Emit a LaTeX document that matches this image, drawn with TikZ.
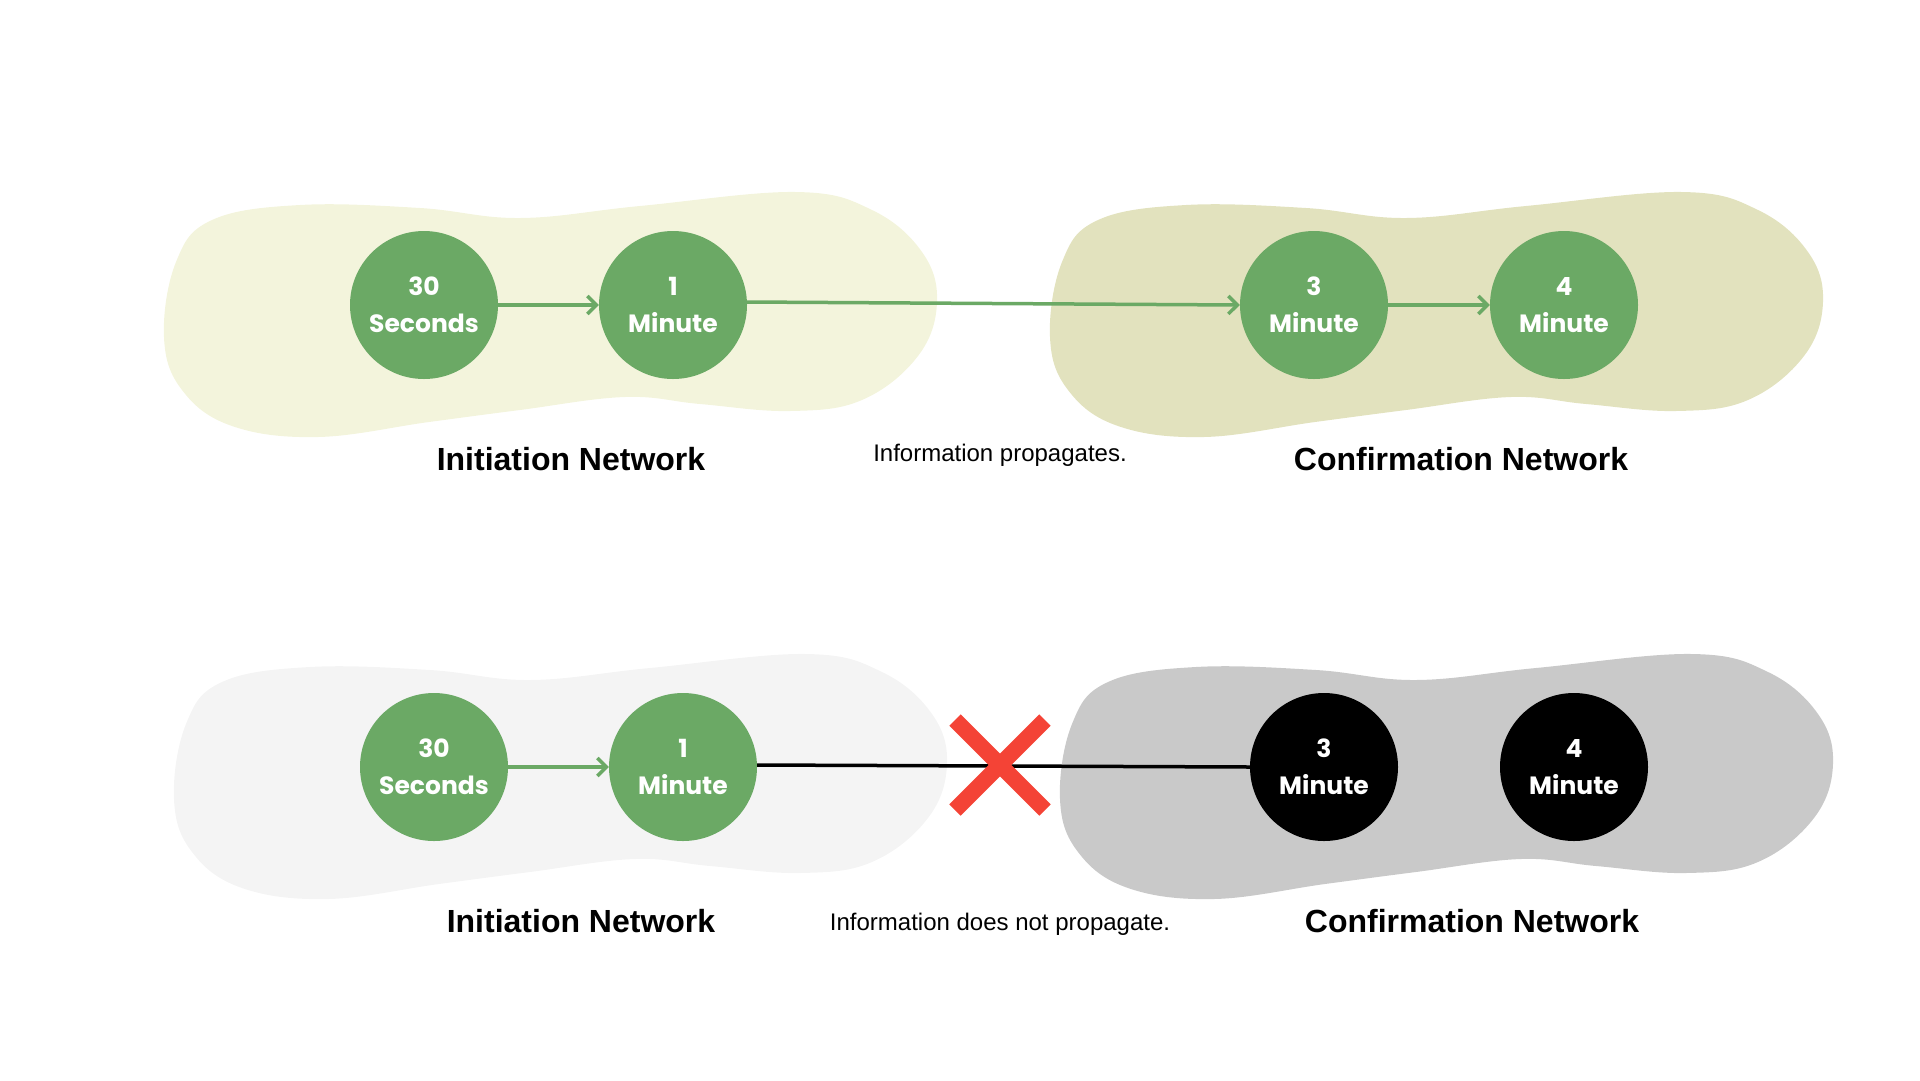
\documentclass[tikz,border=0pt]{standalone}
\usepackage{fontspec}
\setmainfont{Liberation Sans}
\newfontfamily\circfont{Poppins}
\usetikzlibrary{arrows.meta,calc}
\definecolor{blobA}{HTML}{F3F4DC}
\definecolor{blobB}{HTML}{E2E2BE}
\definecolor{blobC}{HTML}{F4F4F4}
\definecolor{blobD}{HTML}{C9C9C9}
\definecolor{nodegreen}{HTML}{6BA965}
\definecolor{xred}{HTML}{F44336}
\tikzset{
  tnode/.style={circle, minimum size=148pt, inner sep=0pt, text=white,
    font=\circfont\bfseries\fontsize{25}{37}\selectfont, align=center},
  gnode/.style={tnode, fill=nodegreen},
  knode/.style={tnode, fill=black},
  netlabel/.style={font=\bfseries\fontsize{32}{38}\selectfont, text=black},
  infolabel/.style={font=\fontsize{24}{28}\selectfont, text=black},
  garrow/.style={draw=nodegreen, line width=3.5pt, -{Straight Barb[length=9pt,width=18pt,line width=3.5pt]}},
  blackline/.style={draw=black, line width=3.5pt},
}
\newcommand\blobpath{plot[smooth cycle, tension=0.65] coordinates {
 (164,337) (176,262) (212,220) (300,205) (420,208) (520,218) (640,206)
 (796,192) (872,210) (922,252) (937,302) (918,356) (862,400) (790,411)
 (700,404) (625,397) (520,410) (429,422) (318,437) (232,426) (182,390)}}
\begin{document}
\begin{tikzpicture}[x=1pt,y=-1pt]
\useasboundingbox (0,0) rectangle (1920,1080);
% blobs
\fill[blobA] \blobpath;
\fill[blobB, shift={(886,0)}] \blobpath;
\fill[blobC, shift={(10,462)}] \blobpath;
\fill[blobD, shift={(896,462)}] \blobpath;
% top row
\node[gnode] (a1) at (424,305) {30\\Seconds};
\node[gnode] (a2) at (673,305) {1\\Minute};
\node[gnode] (a3) at (1314,305) {3\\Minute};
\node[gnode] (a4) at (1564,305) {4\\Minute};
\draw[garrow] (a1) -- (a2);
\draw[garrow] ([yshift=3pt]a2.east) -- (a3.west);
\draw[garrow] (a3) -- (a4);
\node[netlabel] (l1) at (571,459) {Initiation Network};
\node[infolabel] (l2) at (1000,455) {Information propagates.};
\node[netlabel] (l3) at (1461,459) {Confirmation Network};
% bottom row
\node[gnode] (b1) at (434,767) {30\\Seconds};
\node[gnode] (b2) at (683,767) {1\\Minute};
\node[knode] (b3) at (1324,767) {3\\Minute};
\node[knode] (b4) at (1574,767) {4\\Minute};
\draw[garrow] (b1) -- (b2);
\draw[blackline] ([yshift=2pt]b2.east) -- (b3.west);
\coordinate (xc) at (1000,765);
\draw[xred, line width=16pt] ($(xc)+(-45,-45)$) -- ($(xc)+(45,45)$);
\draw[xred, line width=16pt] ($(xc)+(45,-45)$) -- ($(xc)+(-45,45)$);
\node[netlabel] (m1) at (581,921) {Initiation Network};
\node[infolabel] (m2) at (1000,924) {Information does not propagate.};
\node[netlabel] (m3) at (1472,921) {Confirmation Network};
\end{tikzpicture}
\end{document}
